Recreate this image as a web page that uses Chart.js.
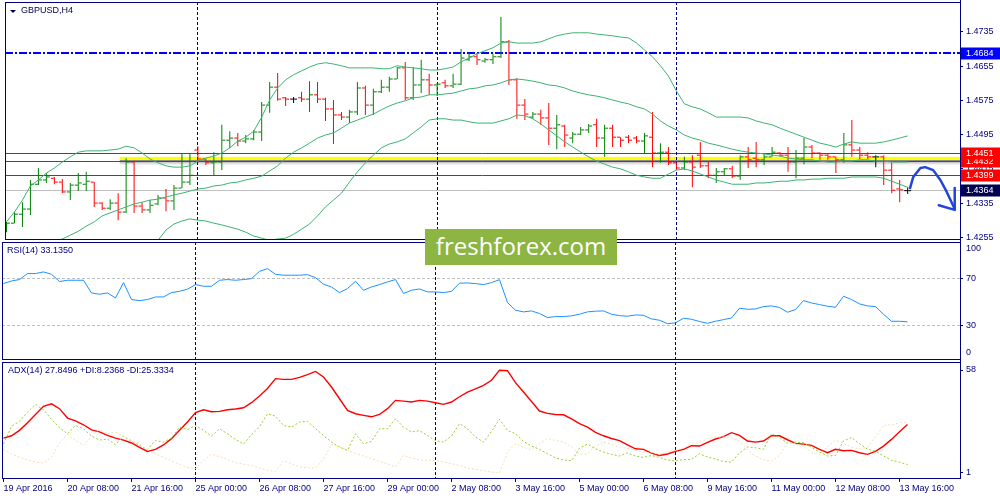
<!DOCTYPE html>
<html>
<head>
<meta charset="utf-8">
<title>GBPUSD,H4</title>
<script src="https://cdn.jsdelivr.net/npm/chart.js@4.4.0/dist/chart.umd.min.js"></script>
<style>
    html, body { margin: 0; padding: 0; background: #fff; }
    #wrap { position: relative; width: 1000px; height: 500px; overflow: hidden; background: #fff; }
    #wrap canvas { position: absolute; left: 0; }
    .watermark {
        position: absolute; left: 425px; top: 229px; width: 192px; height: 36px;
        background: #8db542; color: #fff; font: 24px 'Open Sans', sans-serif;
        line-height: 34px; text-align: center; z-index: 5;
    }
</style>
</head>
<body>
<div id="wrap">
    <canvas id="priceChart" width="1000" height="261" style="top:-10px"></canvas>
    <canvas id="rsiChart" width="1000" height="141" style="top:230px"></canvas>
    <canvas id="adxChart" width="1000" height="150" style="top:350px"></canvas>
    <div class="watermark">freshforex.com</div>
</div>
<script>
// ---- data (H4 bars, 19 Apr 2016 00:00 .. 13 May 2016 20:00) ----
const opens = [
    1.4274, 1.4288, 1.4309, 1.4321, 1.4379, 1.4389, 1.4393, 1.4384, 1.4361, 1.4377,
    1.4379, 1.4384, 1.4335, 1.4323, 1.4335, 1.4314, 1.4431, 1.4328, 1.4319, 1.4333,
    1.4347, 1.4340, 1.4370, 1.4384, 1.4459, 1.4438, 1.4429, 1.4431, 1.4482, 1.4487,
    1.4480, 1.4485, 1.4501, 1.4564, 1.4606, 1.4581, 1.4578, 1.4581, 1.4578, 1.4588,
    1.4578, 1.4555, 1.4541, 1.4536, 1.4548, 1.4604, 1.4564, 1.4595, 1.4606, 1.4625,
    1.4651, 1.4581, 1.4611, 1.4623, 1.4611, 1.4616, 1.4609, 1.4613, 1.4670, 1.4677,
    1.4667, 1.4670, 1.4677, 1.4712, 1.4623, 1.4564, 1.4536, 1.4543, 1.4534, 1.4510,
    1.4515, 1.4487, 1.4496, 1.4506, 1.4518, 1.4487, 1.4510, 1.4489, 1.4489, 1.4487,
    1.4480, 1.4489, 1.4452, 1.4454, 1.4429, 1.4417, 1.4431, 1.4447, 1.4422, 1.4400,
    1.4408, 1.4415, 1.4398, 1.4443, 1.4440, 1.4436, 1.4443, 1.4452, 1.4447, 1.4431,
    1.4440, 1.4466, 1.4452, 1.4447, 1.4443, 1.4436, 1.4471, 1.4459, 1.4447, 1.4443,
    1.4443, 1.4412, 1.4368, 1.4364
];
const highs = [
    1.4291, 1.4314, 1.4337, 1.4389, 1.4417, 1.4405, 1.4396, 1.4391, 1.4382, 1.4405,
    1.4408, 1.4384, 1.4337, 1.4344, 1.4358, 1.4440, 1.4431, 1.4337, 1.4342, 1.4354,
    1.4368, 1.4377, 1.4452, 1.4450, 1.4468, 1.4438, 1.4454, 1.4518, 1.4503, 1.4499,
    1.4494, 1.4506, 1.4571, 1.4618, 1.4639, 1.4583, 1.4583, 1.4595, 1.4620, 1.4618,
    1.4581, 1.4576, 1.4548, 1.4553, 1.4618, 1.4609, 1.4602, 1.4623, 1.4630, 1.4653,
    1.4665, 1.4653, 1.4670, 1.4637, 1.4616, 1.4623, 1.4637, 1.4695, 1.4686, 1.4686,
    1.4674, 1.4684, 1.4770, 1.4716, 1.4627, 1.4578, 1.4548, 1.4553, 1.4569, 1.4541,
    1.4518, 1.4501, 1.4513, 1.4520, 1.4532, 1.4518, 1.4518, 1.4489, 1.4494, 1.4492,
    1.4499, 1.4548, 1.4475, 1.4466, 1.4429, 1.4443, 1.4447, 1.4478, 1.4431, 1.4417,
    1.4417, 1.4422, 1.4447, 1.4466, 1.4478, 1.4452, 1.4466, 1.4454, 1.4466, 1.4459,
    1.4487, 1.4471, 1.4454, 1.4450, 1.4443, 1.4499, 1.4529, 1.4466, 1.4454, 1.4447,
    1.4447, 1.4429, 1.4389, 1.4372
];
const lows = [
    1.4267, 1.4288, 1.4279, 1.4307, 1.4377, 1.4382, 1.4379, 1.4358, 1.4342, 1.4363,
    1.4363, 1.4326, 1.4319, 1.4319, 1.4295, 1.4312, 1.4312, 1.4312, 1.4312, 1.4330,
    1.4316, 1.4319, 1.4370, 1.4377, 1.4429, 1.4424, 1.4400, 1.4412, 1.4464, 1.4468,
    1.4475, 1.4482, 1.4480, 1.4546, 1.4574, 1.4562, 1.4569, 1.4571, 1.4548, 1.4569,
    1.4527, 1.4473, 1.4529, 1.4522, 1.4541, 1.4541, 1.4541, 1.4592, 1.4595, 1.4625,
    1.4576, 1.4576, 1.4592, 1.4588, 1.4585, 1.4604, 1.4604, 1.4611, 1.4667, 1.4658,
    1.4663, 1.4660, 1.4674, 1.4611, 1.4532, 1.4529, 1.4532, 1.4518, 1.4471, 1.4461,
    1.4466, 1.4475, 1.4494, 1.4499, 1.4466, 1.4443, 1.4466, 1.4466, 1.4475, 1.4475,
    1.4452, 1.4419, 1.4429, 1.4424, 1.4412, 1.4412, 1.4372, 1.4417, 1.4393, 1.4382,
    1.4400, 1.4393, 1.4389, 1.4417, 1.4419, 1.4424, 1.4443, 1.4443, 1.4408, 1.4393,
    1.4426, 1.4440, 1.4436, 1.4436, 1.4405, 1.4429, 1.4443, 1.4438, 1.4438, 1.4419,
    1.4377, 1.4358, 1.4337, 1.4356
];
const closes = [
    1.4288, 1.4309, 1.4321, 1.4379, 1.4389, 1.4396, 1.4384, 1.4361, 1.4377, 1.4382,
    1.4386, 1.4335, 1.4323, 1.4335, 1.4314, 1.4431, 1.4328, 1.4319, 1.4330, 1.4347,
    1.4340, 1.4370, 1.4384, 1.4400, 1.4438, 1.4429, 1.4431, 1.4482, 1.4487, 1.4480,
    1.4485, 1.4501, 1.4564, 1.4606, 1.4578, 1.4578, 1.4578, 1.4578, 1.4588, 1.4578,
    1.4555, 1.4541, 1.4536, 1.4548, 1.4604, 1.4564, 1.4595, 1.4606, 1.4625, 1.4651,
    1.4581, 1.4611, 1.4623, 1.4611, 1.4613, 1.4609, 1.4613, 1.4674, 1.4677, 1.4670,
    1.4670, 1.4677, 1.4712, 1.4623, 1.4564, 1.4543, 1.4543, 1.4534, 1.4510, 1.4518,
    1.4494, 1.4496, 1.4506, 1.4515, 1.4487, 1.4510, 1.4489, 1.4482, 1.4482, 1.4480,
    1.4492, 1.4452, 1.4454, 1.4429, 1.4417, 1.4431, 1.4419, 1.4422, 1.4400, 1.4408,
    1.4415, 1.4398, 1.4443, 1.4436, 1.4436, 1.4443, 1.4454, 1.4447, 1.4431, 1.4440,
    1.4466, 1.4452, 1.4447, 1.4443, 1.4436, 1.4471, 1.4459, 1.4447, 1.4443, 1.4443,
    1.4412, 1.4365, 1.4366, 1.4364
];

// Bollinger Bands (20)
const bbUpper = [
    1.4291, 1.4314, 1.4342, 1.4375, 1.4389, 1.4405, 1.4417, 1.4431, 1.4443, 1.4454,
    1.4457, 1.4457, 1.4457, 1.4459, 1.4461, 1.4468, 1.4464, 1.4452, 1.4438, 1.4429,
    1.4422, 1.4419, 1.4419, 1.4422, 1.4433, 1.4440, 1.4445, 1.4452, 1.4464, 1.4480,
    1.4489, 1.4503, 1.4536, 1.4576, 1.4604, 1.4623, 1.4635, 1.4644, 1.4653, 1.4660,
    1.4663, 1.4660, 1.4656, 1.4651, 1.4651, 1.4651, 1.4651, 1.4649, 1.4649, 1.4656,
    1.4653, 1.4651, 1.4649, 1.4646, 1.4646, 1.4649, 1.4653, 1.4665, 1.4674, 1.4684,
    1.4691, 1.4698, 1.4709, 1.4712, 1.4709, 1.4709, 1.4709, 1.4712, 1.4719, 1.4726,
    1.4730, 1.4733, 1.4733, 1.4733, 1.4730, 1.4728, 1.4726, 1.4723, 1.4721, 1.4709,
    1.4693, 1.4677, 1.4656, 1.4632, 1.4597, 1.4567, 1.4560, 1.4555, 1.4546, 1.4536,
    1.4536, 1.4536, 1.4536, 1.4534, 1.4527, 1.4522, 1.4518, 1.4510, 1.4503, 1.4496,
    1.4489, 1.4482, 1.4475, 1.4471, 1.4466, 1.4473, 1.4478, 1.4475, 1.4475, 1.4475,
    1.4478, 1.4482, 1.4487, 1.4492
];
const bbMiddle = [
    1.4197, 1.4206, 1.4216, 1.4225, 1.4234, 1.4241, 1.4246, 1.4251, 1.4260, 1.4269,
    1.4281, 1.4291, 1.4305, 1.4312, 1.4319, 1.4326, 1.4333, 1.4337, 1.4342, 1.4344,
    1.4349, 1.4354, 1.4358, 1.4363, 1.4368, 1.4370, 1.4375, 1.4377, 1.4382, 1.4384,
    1.4389, 1.4393, 1.4398, 1.4410, 1.4422, 1.4440, 1.4454, 1.4464, 1.4475, 1.4487,
    1.4494, 1.4499, 1.4510, 1.4522, 1.4529, 1.4536, 1.4543, 1.4553, 1.4562, 1.4569,
    1.4574, 1.4581, 1.4583, 1.4588, 1.4588, 1.4590, 1.4592, 1.4597, 1.4602, 1.4604,
    1.4609, 1.4611, 1.4616, 1.4623, 1.4625, 1.4623, 1.4620, 1.4616, 1.4611, 1.4609,
    1.4604, 1.4597, 1.4592, 1.4588, 1.4585, 1.4581, 1.4576, 1.4571, 1.4567, 1.4560,
    1.4555, 1.4543, 1.4527, 1.4515, 1.4506, 1.4494, 1.4487, 1.4482, 1.4475, 1.4471,
    1.4466, 1.4461, 1.4457, 1.4454, 1.4452, 1.4450, 1.4447, 1.4445, 1.4440, 1.4438,
    1.4436, 1.4436, 1.4433, 1.4431, 1.4431, 1.4433, 1.4433, 1.4436, 1.4436, 1.4433,
    1.4433, 1.4431, 1.4431, 1.4431
];
const bbLower = [
    1.4103, 1.4099, 1.4089, 1.4075, 1.4080, 1.4078, 1.4075, 1.4071, 1.4078, 1.4085,
    1.4106, 1.4124, 1.4152, 1.4164, 1.4176, 1.4183, 1.4202, 1.4223, 1.4241, 1.4248,
    1.4272, 1.4286, 1.4293, 1.4298, 1.4295, 1.4293, 1.4288, 1.4284, 1.4279, 1.4274,
    1.4267, 1.4258, 1.4253, 1.4248, 1.4251, 1.4253, 1.4262, 1.4274, 1.4286, 1.4305,
    1.4326, 1.4342, 1.4358, 1.4384, 1.4408, 1.4429, 1.4447, 1.4464, 1.4473, 1.4478,
    1.4485, 1.4499, 1.4513, 1.4529, 1.4532, 1.4532, 1.4529, 1.4529, 1.4525, 1.4522,
    1.4522, 1.4522, 1.4527, 1.4532, 1.4541, 1.4539, 1.4532, 1.4520, 1.4506, 1.4492,
    1.4478, 1.4466, 1.4454, 1.4443, 1.4433, 1.4426, 1.4419, 1.4415, 1.4408, 1.4400,
    1.4396, 1.4393, 1.4393, 1.4403, 1.4412, 1.4415, 1.4410, 1.4403, 1.4396, 1.4389,
    1.4384, 1.4379, 1.4379, 1.4379, 1.4382, 1.4382, 1.4384, 1.4386, 1.4386, 1.4389,
    1.4389, 1.4391, 1.4391, 1.4393, 1.4393, 1.4393, 1.4396, 1.4396, 1.4396, 1.4396,
    1.4393, 1.4386, 1.4379, 1.4372
];

// RSI(14)
const rsi = [
    65.7, 67.9, 69.1, 74.2, 74.2, 75.6, 73.6, 67.4, 68.5, 68.5,
    68.5, 57.7, 56.6, 57.7, 53.5, 66.5, 52.1, 51.2, 52.1, 54.3,
    54.3, 58.0, 59.1, 60.9, 64.8, 63.4, 63.4, 68.5, 69.1, 68.5,
    69.1, 69.9, 76.1, 78.4, 73.6, 72.8, 72.8, 72.8, 73.3, 70.7,
    65.1, 62.8, 58.0, 61.4, 67.7, 60.0, 62.8, 64.8, 67.1, 69.1,
    57.2, 60.0, 61.1, 58.6, 58.6, 58.0, 59.1, 66.0, 66.2, 65.7,
    64.8, 66.5, 69.0, 49.5, 43.0, 41.6, 42.4, 40.2, 36.7, 37.6,
    37.6, 38.2, 39.6, 41.6, 42.2, 42.4, 39.6, 38.4, 37.9, 39.0,
    38.7, 35.6, 34.5, 31.6, 32.2, 36.2, 35.3, 33.4, 31.9, 33.6,
    35.0, 36.4, 44.7, 43.8, 44.1, 46.1, 46.7, 45.3, 41.3, 43.6,
    51.2, 49.2, 47.8, 46.4, 45.5, 54.9, 52.1, 48.4, 46.7, 46.1,
    39.6, 33.6, 33.6, 33.1
];

// ADX(14) with +DI / -DI
const adx = [
    20.3, 21.6, 24.6, 28.8, 33.4, 37.9, 39.3, 36.6, 31.4, 29.9,
    27.7, 24.9, 23.8, 21.8, 20.3, 19.2, 17.6, 15.2, 12.9, 14.1,
    16.5, 20.0, 24.6, 29.2, 34.4, 36.0, 34.9, 35.1, 36.0, 36.4,
    37.1, 39.9, 43.6, 47.8, 53.2, 52.8, 52.8, 53.9, 55.4, 57.2,
    54.1, 48.6, 42.1, 35.6, 33.8, 32.9, 32.1, 33.4, 36.6, 41.2,
    40.8, 40.3, 41.2, 40.8, 39.9, 39.0, 40.3, 43.2, 45.8, 47.6,
    49.5, 52.3, 57.9, 57.6, 51.0, 45.8, 40.6, 35.3, 34.0, 33.4,
    33.2, 31.0, 28.3, 26.4, 23.5, 21.6, 20.1, 18.9, 16.5, 14.4,
    14.1, 12.0, 10.7, 11.5, 13.0, 14.1, 16.1, 15.9, 17.9, 19.8,
    21.1, 23.3, 21.8, 18.7, 18.1, 18.7, 21.6, 21.6, 19.4, 17.4,
    17.0, 16.3, 14.1, 12.2, 14.1, 13.3, 13.5, 12.2, 11.3, 13.0,
    15.9, 19.6, 23.8, 27.85
];
const plusDI = [
    17.2, 26.8, 29.6, 34.7, 39.0, 36.0, 30.7, 26.1, 22.7, 27.3,
    25.5, 21.4, 19.2, 19.8, 16.6, 21.4, 18.5, 16.3, 14.1, 19.0,
    18.1, 20.3, 26.4, 25.0, 27.3, 24.6, 21.4, 25.5, 22.7, 19.6,
    17.0, 22.2, 26.6, 33.8, 32.5, 27.3, 26.4, 29.2, 29.6, 25.5,
    21.8, 18.1, 15.4, 13.5, 22.7, 17.2, 18.5, 25.5, 25.5, 31.0,
    26.4, 23.7, 24.4, 21.8, 18.9, 18.1, 21.4, 28.3, 25.5, 20.9,
    18.1, 24.0, 30.7, 24.6, 22.7, 18.5, 15.9, 14.1, 11.7, 9.4,
    8.2, 7.8, 14.8, 17.0, 14.4, 12.6, 11.3, 10.4, 12.2, 10.4,
    9.6, 10.7, 9.6, 8.2, 7.6, 8.5, 8.5, 11.7, 9.8, 8.7,
    7.4, 7.0, 12.2, 15.4, 15.0, 14.1, 22.7, 20.7, 17.4, 18.1,
    17.8, 15.2, 12.6, 10.4, 10.7, 18.7, 20.7, 17.2, 14.2, 13.1,
    10.4, 8.0, 7.0, 5.6
];
const minusDI = [
    14.1, 11.5, 9.8, 8.3, 7.1, 6.5, 9.8, 17.6, 22.4, 19.0,
    16.3, 21.4, 25.1, 22.7, 23.7, 21.4, 19.0, 17.2, 13.7, 11.7,
    9.6, 7.6, 5.8, 4.1, 3.4, 7.8, 11.5, 10.0, 8.5, 6.7,
    5.9, 5.2, 3.7, 2.4, 1.9, 7.8, 6.1, 4.3, 3.9, 3.7,
    8.9, 16.6, 15.5, 13.7, 11.8, 10.4, 8.9, 7.4, 6.1, 4.3,
    10.7, 9.3, 8.2, 8.0, 8.0, 7.1, 6.1, 5.2, 3.7, 3.0,
    2.3, 1.5, 1.0, 12.6, 17.2, 15.2, 13.9, 17.2, 20.1, 19.0,
    18.1, 15.4, 11.5, 11.5, 15.9, 18.3, 16.8, 15.4, 14.6, 13.7,
    12.2, 12.4, 11.1, 12.8, 13.5, 14.8, 17.6, 17.7, 20.0, 20.9,
    20.9, 20.7, 18.5, 13.7, 10.4, 8.3, 7.6, 10.7, 17.9, 17.2,
    15.9, 12.2, 11.1, 15.5, 19.2, 17.4, 15.2, 14.4, 15.2, 20.9,
    27.3, 27.7, 28.8, 29.2
];

// axes
const priceTicks = [1.4735, 1.4655, 1.4575, 1.4495, 1.4415, 1.4335, 1.4255];
const rsiTicks = [70, 30];
const adxTicks = [58, 1];
const timeTickBars = [0, 8, 16, 24, 32, 40, 48, 56, 64, 72, 80, 88, 96, 104, 112];
const timeLabels = [
    '19 Apr 2016', '20 Apr 08:00', '21 Apr 16:00', '25 Apr 00:00', '26 Apr 08:00',
    '27 Apr 16:00', '29 Apr 00:00', '2 May 08:00', '3 May 16:00', '5 May 00:00',
    '6 May 08:00', '9 May 16:00', '11 May 00:00', '12 May 08:00', '13 May 16:00'
];
const separatorBars = [24, 54, 84];   // week separators

// objects drawn on the price window
const resistanceLevels = [1.4451, 1.4432, 1.4399];
const highLevel = 1.4684;
const bidPrice = 1.4364;
const zone = { fromBar: 14.2, top: 1.4443, bottom: 1.4436 };
const arrowPath = [
    [113.3, 1.4370], [113.7, 1.4396], [114.6, 1.4417], [115.2, 1.4419],
    [116.2, 1.4412], [117.1, 1.4389], [117.9, 1.4361], [118.9, 1.4321]
];
const arrowHead = [[116.9, 1.4330], [118.9, 1.4319], [118.9, 1.4370]];

// ---- styling ----
const NAVY = '#000080';
const UP = '#008000';
const DOWN = '#ff0000';
const DOJI = '#000000';
const X_MIN = -0.1875;
const X_MAX = 119.5625;
const TICK = 0.25;
const FONT = '"Liberation Sans", Arial, sans-serif';

Chart.defaults.font.family = FONT;
Chart.defaults.font.size = 9;
Chart.defaults.color = NAVY;

const barColor = i => closes[i] > opens[i] ? UP : (closes[i] < opens[i] ? DOWN : DOJI);
const points = arr => arr.map((v, i) => ({ x: i, y: v }));

function yAxis(min, max, ticks, fmt) {
    return {
        position: 'right',
        min: min,
        max: max,
        afterFit: s => { s.width = 40; },
        afterBuildTicks: s => { s.ticks = ticks.map(v => ({ value: v })); },
        grid: { drawOnChartArea: false, drawTicks: true, tickLength: 3, color: NAVY },
        border: { display: false },
        ticks: { padding: 3, color: NAVY, autoSkip: false, callback: fmt }
    };
}

function xAxis(withLabels) {
    const axis = {
        type: 'linear', min: X_MIN, max: X_MAX, offset: false,
        display: withLabels,
        grid: { offset: false }
    };
    if (withLabels) {
        Object.assign(axis, {
            afterFit: s => { s.height = 22; },
            afterBuildTicks: s => { s.ticks = timeTickBars.map(v => ({ value: v })); },
            grid: { offset: false, drawOnChartArea: false, drawTicks: true, tickLength: 4, color: NAVY },
            border: { display: false },
            ticks: { align: 'start', padding: 1, autoSkip: false, maxRotation: 0, color: NAVY,
                     callback: (v, i) => timeLabels[i] }
        });
    }
    return axis;
}

function text(ctx, str, x, y, color) {
    ctx.font = '9px ' + FONT;
    ctx.textBaseline = 'middle';
    ctx.textAlign = 'left';
    ctx.fillStyle = color || NAVY;
    ctx.fillText(str, x, y);
}

// frame, week separators and per-window extras
function overlay(cfg) {
    return {
        id: 'mt4Overlay',
        beforeDatasetsDraw(chart) {
            const { ctx, chartArea: a, scales: { x, y } } = chart;
            ctx.save();
            ctx.beginPath();
            ctx.rect(a.left, a.top, a.right - a.left, a.bottom - a.top);
            ctx.clip();
            if (cfg.before) cfg.before(ctx, a, x, y);
            ctx.strokeStyle = NAVY;
            ctx.lineWidth = 1;
            ctx.setLineDash([3, 2]);
            separatorBars.forEach(b => {
                const px = Math.floor(x.getPixelForValue(b)) + 0.5;
                ctx.beginPath();
                ctx.moveTo(px, a.top);
                ctx.lineTo(px, a.bottom);
                ctx.stroke();
            });
            ctx.restore();
        },
        afterDraw(chart) {
            const { ctx, chartArea: a, scales: { x, y } } = chart;
            ctx.save();
            ctx.strokeStyle = NAVY;
            ctx.lineWidth = 1;
            ctx.setLineDash([]);
            ctx.strokeRect(a.left + 0.5, a.top + 0.5, a.right - a.left, a.bottom - a.top);
            ctx.beginPath();
            ctx.moveTo(a.right + 0.5, a.top - 3);
            ctx.lineTo(a.right + 0.5, a.bottom + (cfg.lastPanel ? 0 : 3));
            ctx.stroke();
            if (cfg.after) cfg.after(ctx, a, x, y);
            ctx.restore();
        }
    };
}

function hline(ctx, a, y, value, color, width, dash) {
    const py = Math.floor(y.getPixelForValue(value)) + (width % 2 ? 0.5 : 0);
    ctx.strokeStyle = color;
    ctx.lineWidth = width;
    ctx.setLineDash(dash);
    ctx.beginPath();
    ctx.moveTo(a.left, py);
    ctx.lineTo(a.right, py);
    ctx.stroke();
}

function priceBox(ctx, a, y, value, bg) {
    const py = Math.floor(y.getPixelForValue(value)) + 0.5;
    ctx.fillStyle = bg;
    ctx.fillRect(a.right + 1, py - 6, 39, 12);
    text(ctx, value.toFixed(4), a.right + 6, py, '#ffffff');
}

// ---- price window ----
new Chart(document.getElementById('priceChart'), {
    type: 'line',
    data: {
        datasets: [
            { type: 'line', data: points(bbUpper), borderColor: '#3cb371', borderWidth: 1, pointRadius: 0, order: 1 },
            { type: 'line', data: points(bbMiddle), borderColor: '#3cb371', borderWidth: 1, pointRadius: 0, order: 1 },
            { type: 'line', data: points(bbLower), borderColor: '#3cb371', borderWidth: 1, pointRadius: 0, order: 1 },
            {
                type: 'bar',
                data: highs.map((h, i) => ({ x: i, y: [lows[i], h] })),
                backgroundColor: c => barColor(c.dataIndex),
                barThickness: 1, grouped: false, inflateAmount: 0, borderWidth: 0, order: 3
            },
            {
                type: 'scatter',
                data: opens.map((v, i) => ({ x: i - TICK, y: v })),
                pointStyle: 'line', pointRadius: 1.5, pointBorderWidth: 1,
                pointBorderColor: c => barColor(c.dataIndex), order: 2
            },
            {
                type: 'scatter',
                data: closes.map((v, i) => ({ x: i + TICK, y: v })),
                pointStyle: 'line', pointRadius: 1.5, pointBorderWidth: 1,
                pointBorderColor: c => barColor(c.dataIndex), order: 2
            }
        ]
    },
    options: {
        responsive: false,
        animation: false,
        events: [],
        layout: { padding: { left: 2, right: 0, top: 12, bottom: 12 } },
        plugins: { legend: { display: false }, tooltip: { enabled: false } },
        scales: {
            x: xAxis(false),
            y: yAxis(1.4251, 1.4805, priceTicks, v => v.toFixed(4))
        }
    },
    plugins: [overlay({
        before(ctx, a, x, y) {
            // yellow zone with its shadow
            const x0 = x.getPixelForValue(zone.fromBar);
            const y0 = y.getPixelForValue(zone.top);
            const y1 = y.getPixelForValue(zone.bottom);
            const g = ctx.createLinearGradient(0, y1, 0, y1 + 6);
            g.addColorStop(0, 'rgba(80,80,80,0.8)');
            g.addColorStop(1, 'rgba(200,200,200,0)');
            ctx.fillStyle = g;
            ctx.fillRect(x0, y1, a.right - x0, 6);
            ctx.fillStyle = '#ffff00';
            ctx.fillRect(x0, y0, a.right - x0, y1 - y0);
            hline(ctx, a, y, bidPrice, '#c0c0c0', 1, []);
            resistanceLevels.forEach(v => hline(ctx, a, y, v, '#ff0000', 1, []));
            hline(ctx, a, y, highLevel, '#0000ff', 2, [8, 2, 2, 2]);
        },
        after(ctx, a, x, y) {
            // hand drawn arrow
            ctx.strokeStyle = '#2244dd';
            ctx.lineWidth = 2.5;
            ctx.lineJoin = 'round';
            ctx.lineCap = 'round';
            ctx.beginPath();
            arrowPath.forEach(([b, p], i) => {
                const px = x.getPixelForValue(b), py = y.getPixelForValue(p);
                if (i === 0) ctx.moveTo(px, py); else ctx.lineTo(px, py);
            });
            ctx.stroke();
            ctx.beginPath();
            arrowHead.forEach(([b, p], i) => {
                const px = x.getPixelForValue(b), py = y.getPixelForValue(p);
                if (i === 0) ctx.moveTo(px, py); else ctx.lineTo(px, py);
            });
            ctx.stroke();

            // price labels on the scale
            priceBox(ctx, a, y, highLevel, '#0000ff');
            priceBox(ctx, a, y, 1.4432, '#ff0000');
            priceBox(ctx, a, y, 1.4451, '#ff0000');
            priceBox(ctx, a, y, 1.4399, '#ff0000');
            priceBox(ctx, a, y, bidPrice, '#000050');

            // symbol title
            ctx.fillStyle = '#000050';
            ctx.beginPath();
            ctx.moveTo(a.left + 5, a.top + 8);
            ctx.lineTo(a.left + 11, a.top + 8);
            ctx.lineTo(a.left + 8, a.top + 11);
            ctx.closePath();
            ctx.fill();
            text(ctx, 'GBPUSD,H4', a.left + 16, a.top + 9, '#000050');
        }
    })]
});

// ---- RSI window ----
new Chart(document.getElementById('rsiChart'), {
    type: 'line',
    data: {
        datasets: [
            { data: points(rsi), borderColor: '#1e90ff', borderWidth: 1, pointRadius: 0 }
        ]
    },
    options: {
        responsive: false,
        animation: false,
        events: [],
        layout: { padding: { left: 2, right: 0, top: 12, bottom: 12 } },
        plugins: { legend: { display: false }, tooltip: { enabled: false } },
        scales: {
            x: xAxis(false),
            y: yAxis(1.5, 101.06, rsiTicks, v => String(v))
        }
    },
    plugins: [overlay({
        before(ctx, a, x, y) {
            rsiTicks.forEach(v => hline(ctx, a, y, v, '#c0c0c0', 1, [3, 2]));
        },
        after(ctx, a, x, y) {
            text(ctx, 'RSI(14) 33.1350', a.left + 5, a.top + 9);
            text(ctx, '100', a.right + 6, a.top + 7);
            text(ctx, '0', a.right + 6, a.bottom - 6);
        }
    })]
});

// ---- ADX window ----
new Chart(document.getElementById('adxChart'), {
    type: 'line',
    data: {
        datasets: [
            { data: points(minusDI), borderColor: '#f5deb3', borderWidth: 1, borderDash: [2, 2], pointRadius: 0 },
            { data: points(plusDI), borderColor: '#9acd32', borderWidth: 1, borderDash: [2, 2], pointRadius: 0 },
            { data: points(adx), borderColor: '#ff0000', borderWidth: 1.4, pointRadius: 0 }
        ]
    },
    options: {
        responsive: false,
        animation: false,
        events: [],
        layout: { padding: { left: 2, right: 0, top: 12, bottom: 0 } },
        plugins: { legend: { display: false }, tooltip: { enabled: false } },
        scales: {
            x: xAxis(true),
            y: yAxis(-1.77, 62.43, adxTicks, v => String(v))
        }
    },
    plugins: [overlay({
        lastPanel: true,
        after(ctx, a) {
            text(ctx, 'ADX(14) 27.8496 +DI:8.2368 -DI:25.3334', a.left + 6, a.top + 9);
        }
    })]
});
</script>
</body>
</html>
